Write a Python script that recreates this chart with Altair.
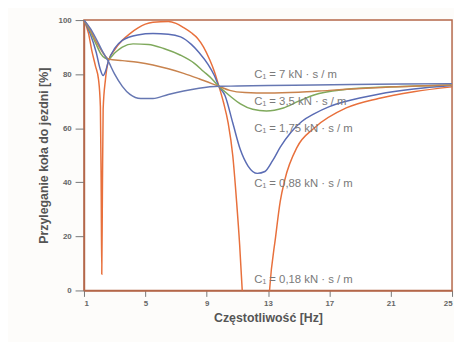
import altair as alt
import pandas as pd

# ---- data ----
series_names = ["0,18", "0,88", "1,75", "3,5", "7"]
series_colors = ["#e8703c", "#5a6cb4", "#7fa95c", "#c8834e", "#6677b2"]

f_018 = [1.0, 1.3, 1.5, 1.75, 1.95, 2.07, 2.12, 2.16, 2.2, 2.25, 2.4, 2.6, 3.0, 3.5, 4.0, 4.5, 5.0, 5.5, 6.5, 7.0,
         7.5, 8.0, 8.4, 8.8, 9.2, 9.5, 9.8, 10.1, 10.4, 10.7, 10.95, 11.15, 11.32, 11.5, 12.9, 13.1, 13.5, 13.8, 14.1,
         14.9, 16.0, 18.1, 20.2, 22.5, 25.0]
v_018 = [100, 95, 89, 83, 78, 68, 40, 6, 35, 67, 78, 85, 89, 92.5, 95, 97, 98.5, 99.2, 99.5, 98.8,
         97.2, 95.3, 93.3, 90, 85.3, 81, 75.5, 69.5, 62, 50, 33, 17, 0, -20, -20, 0, 20, 33, 41,
         53, 60, 67.5, 71, 73.5, 75.3]

f_088 = [1.0, 1.4, 1.8, 2.05, 2.25, 2.4, 2.6, 3.0, 3.5, 4.5, 5.5, 6.5, 7.3, 8.0, 8.5, 9.1, 9.5, 9.8, 10.2, 10.7,
         11.2, 11.7, 12.3, 12.8, 13.3, 13.8, 14.5, 15.2, 16.0, 17.0, 18.1, 20.2, 22.5, 25.0]
v_088 = [100, 95, 88, 82, 79.5, 81, 85, 89.5, 92.5, 94.5, 95, 94.8, 93.8, 91, 88, 83.5, 79.5, 75.5, 72, 62,
         52, 46, 43.3, 44, 48, 53, 58.5, 62.5, 65.3, 68, 70, 72.6, 74.5, 75.8]

f_175 = [1.0, 1.4, 1.8, 2.1, 2.35, 2.6, 3.0, 3.5, 4.2, 5.2, 6.2, 7.3, 8.2, 8.8, 9.3, 9.8, 10.5, 11.2, 12.0, 12.9,
         14.0, 15.0, 16.0, 18.0, 21.0, 25.0]
v_175 = [100, 96, 91, 87.5, 86, 85.6, 87.8, 90, 91.2, 91, 89.5, 87, 84, 81, 78.5, 75.5, 72, 69, 67, 66.4,
         67.5, 70, 72.3, 74.3, 75.3, 76]

f_35 = [1.0, 1.4, 1.8, 2.2, 2.6, 3.5, 4.5, 5.5, 6.5, 7.5, 8.5, 9.8, 10.5, 11.5, 13.0, 15.0, 17.0, 20.0, 25.0]
v_35 = [100, 96.5, 92, 88.2, 85.6, 85.0, 84.4, 83.4, 82, 80.3, 78.3, 75.5, 74, 73.2, 73, 73.3, 74, 75, 76]

f_7 = [1.0, 1.4, 1.8, 2.2, 2.6, 3.0, 3.5, 4.0, 4.7, 5.5, 6.5, 7.5, 8.5, 9.8, 11.0, 13.0, 16.0, 20.0, 25.0]
v_7 = [100, 97, 93, 88.5, 84.6, 80, 75.5, 72.5, 71, 71, 72.5, 73.8, 74.8, 75.5, 75.6, 75.8, 76, 76.3, 76.5]

label_text = ["C\u2081 = 7 kN \u00b7 s / m", "C\u2081 = 3,5 kN \u00b7 s / m", "C\u2081 = 1,75 kN \u00b7 s / m",
              "C\u2081 = 0,88 kN \u00b7 s / m", "C\u2081 = 0,18 kN \u00b7 s / m"]
label_f = [12.1, 12.1, 12.1, 12.1, 12.1]
label_v = [79.5, 69.8, 59.8, 39.5, 3.8]

x_ticks = list(range(1, 26))
y_ticks = list(range(0, 101, 10))

# ---- build tables ----
rows = []
for name, fs, vs in zip(series_names, [f_018, f_088, f_175, f_35, f_7], [v_018, v_088, v_175, v_35, v_7]):
    for i, (f, v) in enumerate(zip(fs, vs)):
        rows.append({"C": name, "f": f, "v": v, "i": i})
df = pd.DataFrame(rows)
labels = pd.DataFrame({"t": label_text, "f": label_f, "v": label_v})

FONT = "Liberation Sans"
FRAME = "#b4674a"

x_scale = alt.Scale(domain=[1, 25], nice=False, zero=False)
y_scale = alt.Scale(domain=[0, 100], nice=False)

lines = alt.Chart(df).mark_line(clip=True, interpolate="monotone", strokeWidth=1.5).encode(
    x=alt.X("f:Q", scale=x_scale,
            axis=alt.Axis(values=x_ticks, title="Częstotliwość [Hz]", grid=False,
                          labelExpr="(datum.value - 1) % 4 == 0 ? datum.label : ''",
                          tickSize=6, tickColor="#777777", tickWidth=1,
                          domainColor=FRAME, domainWidth=1.5,
                          labelFont=FONT, labelFontSize=8, labelFontWeight="bold", labelColor="#666666",
                          labelPadding=3, titleFont=FONT, titleFontSize=12.5, titleFontWeight="bold",
                          titleColor="#555555", titlePadding=4)),
    y=alt.Y("v:Q", scale=y_scale,
            axis=alt.Axis(values=y_ticks, title="Przyleganie koła do jezdni [%]", grid=False,
                          tickSize=9, tickColor="#777777", tickWidth=1,
                          domainColor=FRAME, domainWidth=1.5,
                          labelFont=FONT, labelFontSize=8, labelFontWeight="bold", labelColor="#666666",
                          labelPadding=4, titleFont=FONT, titleFontSize=12.5, titleFontWeight="bold",
                          titleColor="#555555", titlePadding=8)),
    color=alt.Color("C:N", scale=alt.Scale(domain=series_names, range=series_colors), legend=None),
    order="i:Q",
)

texts = alt.Chart(labels).mark_text(align="left", baseline="middle", font=FONT, fontSize=11.5,
                                    color="#7a7a7a").encode(
    x=alt.X("f:Q", scale=x_scale),
    y=alt.Y("v:Q", scale=y_scale),
    text="t:N",
)

chart = alt.layer(lines, texts).properties(
    width=373, height=274,
    autosize=alt.AutoSizeParams(type="none"),
    padding={"left": 77, "top": 10, "right": 2, "bottom": 50},
    background="#fdfcfa",
).configure_view(stroke=FRAME, strokeWidth=1.5, fill="#ffffff")

chart.save("out.html", embed_options={"renderer": "svg", "actions": False})
